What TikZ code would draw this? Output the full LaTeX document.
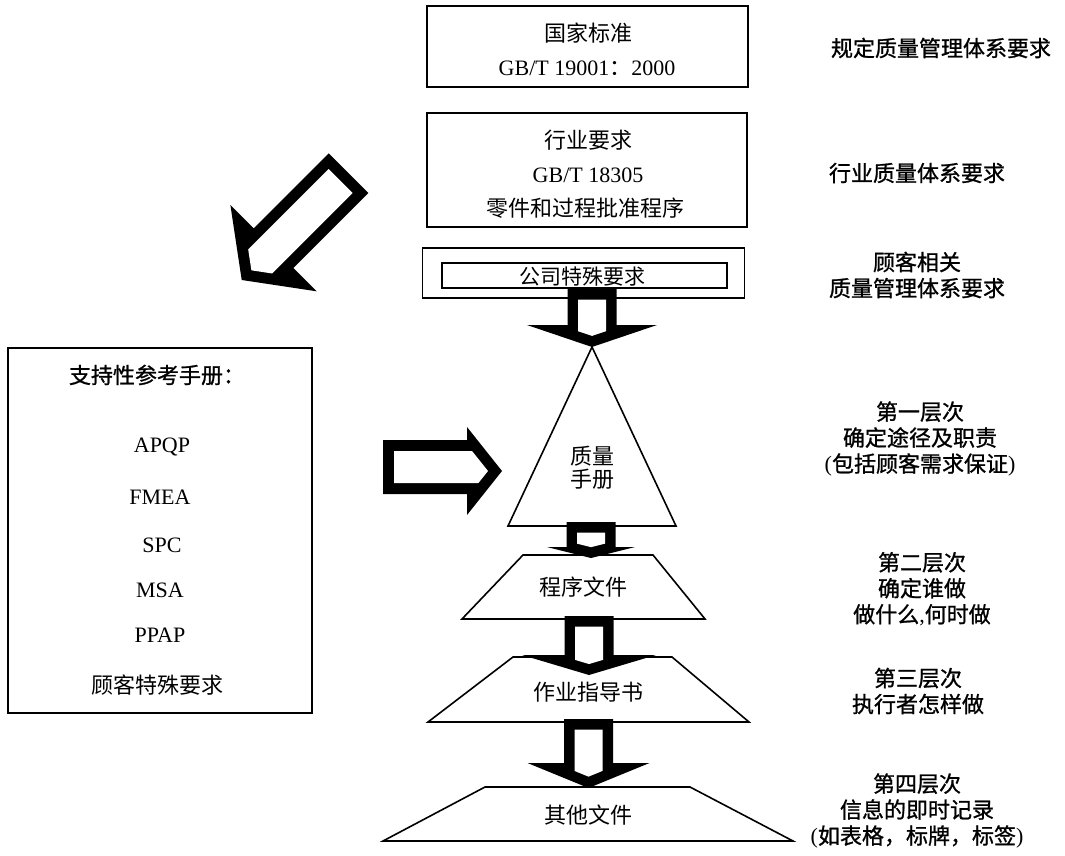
\documentclass[tikz,border=0pt]{standalone}
\usepackage{fontspec}
\setmainfont{Liberation Serif}
\newfontfamily\cjk{Noto Sans CJK SC}
\newfontfamily\cjkb[FakeBold=1]{Noto Sans CJK SC}
\newcommand\blockdown[5]{% cx, ytop, yhead, ytip, head half width
  \fill[black] ({#1-24.5},#2) -- ({#1-24.5},#3) -- ({#1-#5},#3) -- (#1,#4) -- ({#1+#5},#3) -- ({#1+24.5},#3) -- ({#1+24.5},#2) -- cycle;
  \fill[white] ({#1-14},{#2+10.5}) -- ({#1-14},{#3+(#5-14)*(#4-#3)/#5-10.5*sqrt((#5)^2+(#4-#3)^2)/#5})
     -- (#1,{#4-10.5*sqrt((#5)^2+(#4-#3)^2)/#5})
     -- ({#1+14},{#3+(#5-14)*(#4-#3)/#5-10.5*sqrt((#5)^2+(#4-#3)^2)/#5}) -- ({#1+14},{#2+10.5}) -- cycle;
}
\tikzset{
  frame/.style={draw, line width=1.6pt, inner sep=0pt},
  shapeline/.style={draw, line width=1.6pt, line join=miter},
  ctext/.style={font=\cjk\fontsize{22}{26}\selectfont, align=center, inner sep=0pt},
  rtext/.style={font=\cjkb\fontsize{22}{26}\selectfont, align=center, inner sep=0pt},
  ltext/.style={font=\fontsize{22}{26}\selectfont, align=center, inner sep=0pt},
}
\begin{document}
\begin{tikzpicture}[x=1pt,y=-1pt]
\useasboundingbox[fill=white] (0,0) rectangle (1065,856);

% top boxes
\node[frame, minimum width=321pt, minimum height=81pt] (natbox) at (587.5,46.5) {};
\node[ctext] (nat1) at (588,33) {国家标准};
\node[ltext] (nat2) at (587,68) {GB/T 19001{\cjk ：}2000};

\node[frame, minimum width=320pt, minimum height=114pt] (indbox) at (587,170) {};
\node[ctext] (ind1) at (588,140) {行业要求};
\node[ltext] (ind2) at (588,175) {GB/T 18305};
\node[ctext] (ind3) at (585,208) {零件和过程批准程序};

\node[frame, minimum width=322pt, minimum height=50pt] (compout) at (583.5,273) {};
\node[frame, minimum width=285pt, minimum height=25pt] (compin) at (584.5,275.5) {};
\node[ctext, font=\cjk\fontsize{21}{26}\selectfont] (comp) at (582,276.5) {公司特殊要求};

% pyramid
\coordinate (apex) at (592,347);
\draw[shapeline] (apex) -- (676,526) -- (508,526) -- cycle;
\node[ctext, font=\cjk\fontsize{22}{23}\selectfont] (qm) at (592,468) {质量\\手册};

\draw[shapeline] (523,555) -- (653,555) -- (705,619) -- (462,619) -- cycle;
\node[ctext] (proc) at (583,587) {程序文件};
\draw[shapeline] (513,657) -- (672,657) -- (749,722) -- (428,722) -- cycle;
\node[ctext] (work) at (588,692) {作业指导书};
\draw[shapeline] (485,787) -- (690,787) -- (793,841) -- (383,841) -- cycle;
\node[ctext] (other) at (588,815) {其他文件};

% vertical block arrows
\blockdown{592}{289}{325}{347}{65}
\blockdown{591}{522}{547}{558}{44}
\blockdown{589}{616}{655}{675}{67}
\blockdown{588.5}{719}{763}{788}{61}

% right block arrow
\fill[black] (383,440) -- (467,440) -- (467,427) -- (502,471) -- (467,515) -- (467,494) -- (383,494) -- cycle;
\fill[white] (394,451) -- (472,451) -- (488,471) -- (478.4,483) -- (394,483) -- cycle;

% diagonal block arrow
\begin{scope}[shift={(241.7,280)}, rotate=225]
\fill[black] (0,0) -- (-45,61) -- (-45,28) -- (-151,28) -- (-151,-28) -- (-45,-28) -- (-45,-61) -- cycle;
\fill[white] (-13.7,0) -- (-26.2,17) -- (-140,17) -- (-140,-17) -- (-26.2,-17) -- cycle;
\end{scope}

% left box
\node[frame, minimum width=304pt, minimum height=365pt] (refbox) at (160,530.5) {};
\node[rtext] (ref0) at (157,375) {支持性参考手册：};
\node[ltext] (ref1) at (162,447) {APQP};
\node[ltext] (ref2) at (160,497) {FMEA};
\node[ltext] (ref3) at (162,545) {SPC};
\node[ltext] (ref4) at (160,590) {MSA};
\node[ltext] (ref5) at (160,635) {PPAP};
\node[ctext] (ref6) at (157,685) {顾客特殊要求};

% right labels
\node[rtext] (r1) at (941,48) {规定质量管理体系要求};
\node[rtext] (r2) at (917,173) {行业质量体系要求};
\node[rtext] (r3) at (917,275) {顾客相关\\质量管理体系要求};
\node[rtext] (r4) at (920,439) {第一层次\\确定途径及职责\\{\rmfamily(}包括顾客需求保证{\rmfamily)}};
\node[rtext] (r5) at (922,589) {第二层次\\确定谁做\\做什么{\rmfamily,}何时做};
\node[rtext] (r6) at (918,691) {第三层次\\执行者怎样做};
\node[rtext] (r7) at (917,811) {第四层次\\信息的即时记录\\{\rmfamily(}如表格，标牌，标签{\rmfamily)}};
\end{tikzpicture}
\end{document}
